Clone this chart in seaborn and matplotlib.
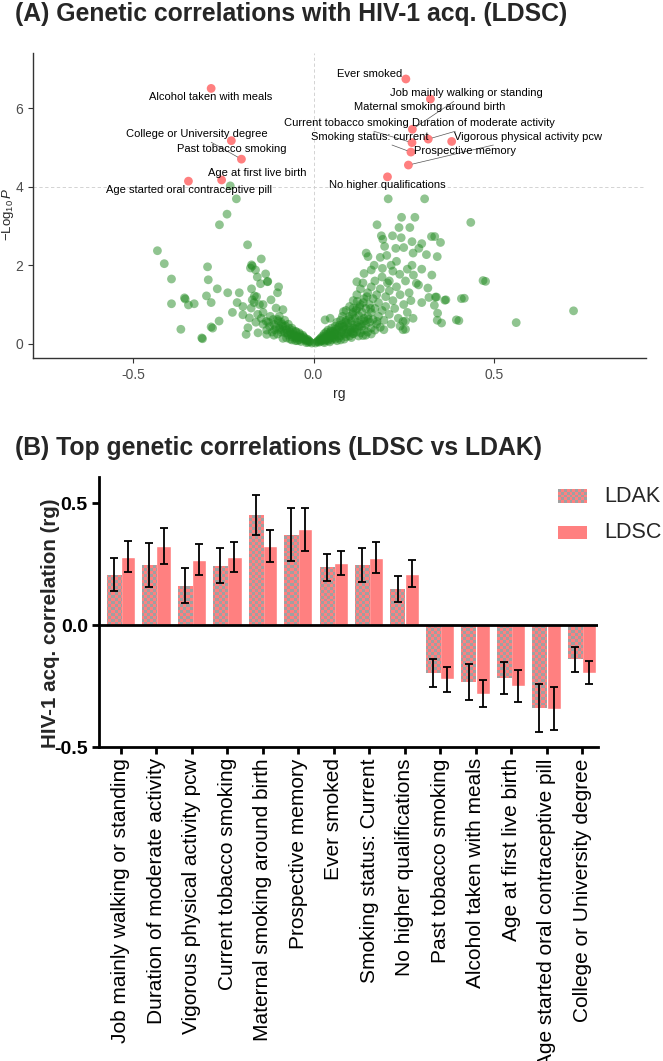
# volcano plot of LDSC genetic correlations + LDSC vs LDAK bar chart
import numpy as np
import pandas as pd
import seaborn as sns
from matplotlib import pyplot as plt
from matplotlib.colors import ListedColormap
from matplotlib.patches import Rectangle

sns.set_style("ticks")
plt.rcParams['font.family'] = ['Liberation Sans', 'DejaVu Sans']
plt.rcParams['mathtext.fontset'] = 'custom'
plt.rcParams['mathtext.rm'] = 'Liberation Sans'
plt.rcParams['mathtext.it'] = 'Liberation Sans:italic'

# ---- panel A: non-significant traits ----
green_rg = [
    -0.231, -0.214, -0.240, -0.261, -0.433, -0.414, -0.394, -0.294, -0.292, -0.183,
    -0.172, -0.145, -0.175, -0.161, -0.156, -0.133, -0.147, -0.128, -0.097, -0.100,
    -0.172, -0.267, -0.238, -0.206, -0.297, -0.358, -0.158, -0.394, -0.356, -0.347,
    -0.331, -0.284, -0.368, -0.308, -0.280, -0.262, -0.284, -0.310, -0.196, -0.173,
    -0.196, -0.178, -0.145, -0.131, -0.104, -0.085, -0.095, -0.182, -0.154, -0.187,
    -0.122, -0.108, -0.170, -0.164, -0.170, -0.127, -0.212, -0.225, -0.140, -0.118,
    -0.010, -0.015, -0.020, -0.025, -0.030, -0.030, -0.035, -0.040, -0.040, -0.045,
    -0.050, -0.050, -0.055, -0.060, -0.060, -0.065, -0.070, -0.070, -0.075, -0.080,
    -0.080, -0.085, -0.090, -0.090, -0.095, -0.100, -0.100, -0.110, -0.115, -0.120,
    -0.125, -0.130, -0.140, -0.140, -0.150, -0.155, -0.160, -0.165, -0.060, -0.045,
    -0.020, -0.035, -0.075, -0.110, -0.130, -0.085, -0.050, -0.065, -0.005, -0.015,
    -0.012, -0.018, -0.022, -0.028, -0.033, -0.038, -0.043, -0.048, -0.053, -0.058,
    -0.063, -0.068, -0.073, -0.078, -0.083, -0.088, -0.093, -0.098, -0.105, -0.112,
    0.005, 0.010, 0.015, 0.015, 0.020, 0.020, 0.025, 0.025, 0.030, 0.030,
    0.030, 0.035, 0.035, 0.040, 0.040, 0.040, 0.045, 0.045, 0.050, 0.050,
    0.050, 0.055, 0.055, 0.060, 0.060, 0.060, 0.065, 0.065, 0.070, 0.070,
    0.070, 0.075, 0.075, 0.080, 0.080, 0.080, 0.085, 0.085, 0.090, 0.090,
    0.090, 0.090, 0.095, 0.095, 0.100, 0.100, 0.100, 0.100, 0.105, 0.105,
    0.110, 0.110, 0.110, 0.110, 0.115, 0.115, 0.120, 0.120, 0.120, 0.120,
    0.125, 0.125, 0.130, 0.130, 0.130, 0.130, 0.135, 0.135, 0.140, 0.140,
    0.140, 0.145, 0.145, 0.150, 0.150, 0.150, 0.155, 0.155, 0.160, 0.160,
    0.160, 0.165, 0.165, 0.170, 0.170, 0.170, 0.175, 0.175, 0.180, 0.180,
    0.185, 0.185, 0.190, 0.190, 0.195, 0.200, 0.200, 0.205, 0.210, 0.210,
    0.215, 0.220, 0.220, 0.225, 0.230, 0.235, 0.240, 0.240, 0.250, 0.255,
    0.260, 0.065, 0.085, 0.105, 0.125, 0.145, 0.160, 0.045, 0.030, 0.075,
    0.012, 0.018, 0.022, 0.028, 0.033, 0.038, 0.042, 0.048, 0.052, 0.058,
    0.062, 0.068, 0.072, 0.078, 0.082, 0.088, 0.092, 0.098, 0.102, 0.108,
    0.112, 0.118, 0.122, 0.128, 0.132, 0.138, 0.142, 0.148, 0.152, 0.158,
    0.207, 0.308, 0.244, 0.281, 0.176, 0.237, 0.267, 0.436, 0.188, 0.192,
    0.219, 0.243, 0.327, 0.336, 0.352, 0.273, 0.292, 0.197, 0.228, 0.146,
    0.151, 0.203, 0.215, 0.313, 0.343, 0.273, 0.277, 0.328, 0.168, 0.191,
    0.470, 0.140, 0.120, 0.276, 0.160, 0.137, 0.239, 0.285, 0.317, 0.341,
    0.364, 0.410, 0.270, 0.300, 0.320, 0.335, 0.396, 0.355, 0.276, 0.248,
    0.248, 0.195, 0.176, 0.121, 0.110, 0.083, 0.046, 0.032, 0.110, 0.137,
    0.721, 0.562, 0.477, 0.403, 0.418, 0.367, 0.338, 0.344, 0.343, 0.255,
    0.255, 0.291, 0.230, 0.260, 0.300, 0.185, 0.250, 0.300, 0.210, 0.265,
]
green_logp = [
    4.02, 3.69, 3.30, 3.03, 2.37, 2.04, 1.65, 1.96, 1.63, 2.52,
    2.01, 2.16, 1.93, 1.88, 1.70, 1.78, 1.53, 1.58, 1.45, 1.30,
    1.40, 1.40, 1.30, 1.30, 1.22, 1.17, 1.20, 1.02, 1.14, 0.99,
    1.02, 1.05, 0.37, 0.13, 0.40, 0.58, 0.43, 0.15, 0.95, 0.91,
    0.74, 0.66, 0.65, 0.57, 0.91, 0.87, 0.70, 0.41, 0.28, 0.24,
    0.44, 0.36, 1.98, 1.22, 1.12, 1.59, 1.05, 0.80, 1.00, 1.12,
    0.05, 0.10, 0.08, 0.15, 0.12, 0.22, 0.18, 0.10, 0.28, 0.20,
    0.14, 0.32, 0.24, 0.18, 0.40, 0.30, 0.22, 0.50, 0.36, 0.28,
    0.60, 0.45, 0.30, 0.55, 0.40, 0.25, 0.62, 0.50, 0.30, 0.70,
    0.55, 0.35, 0.80, 0.50, 1.00, 0.75, 0.55, 1.05, 0.10, 0.08,
    0.03, 0.06, 0.15, 0.22, 0.24, 0.14, 0.08, 0.12, 0.02, 0.04,
    0.07, 0.12, 0.10, 0.18, 0.14, 0.24, 0.16, 0.30, 0.20, 0.34,
    0.24, 0.40, 0.28, 0.46, 0.35, 0.50, 0.36, 0.58, 0.42, 0.62,
    0.02, 0.05, 0.04, 0.10, 0.06, 0.15, 0.10, 0.20, 0.07, 0.15,
    0.26, 0.12, 0.30, 0.08, 0.20, 0.35, 0.15, 0.28, 0.10, 0.22,
    0.40, 0.32, 0.15, 0.12, 0.25, 0.45, 0.35, 0.55, 0.15, 0.28,
    0.42, 0.60, 0.20, 0.35, 0.50, 0.70, 0.25, 0.45, 0.18, 0.38,
    0.60, 0.85, 0.30, 0.52, 0.20, 0.42, 0.70, 0.95, 0.30, 0.58,
    0.26, 0.48, 0.80, 1.10, 0.38, 0.65, 0.30, 0.55, 0.90, 1.25,
    0.42, 0.72, 0.28, 0.60, 1.00, 1.40, 0.45, 0.80, 0.35, 0.65,
    1.15, 0.50, 0.90, 0.30, 0.70, 1.30, 0.55, 1.00, 0.40, 0.80,
    1.45, 0.62, 1.15, 0.35, 0.90, 1.60, 0.50, 1.25, 0.70, 1.05,
    0.42, 1.40, 0.85, 1.70, 0.60, 1.20, 0.95, 1.55, 0.75, 1.35,
    0.50, 1.10, 1.85, 0.90, 1.45, 0.65, 1.25, 0.45, 1.00, 1.60,
    0.80, 0.08, 0.12, 0.16, 0.20, 0.22, 0.25, 0.05, 0.03, 0.10,
    0.07, 0.12, 0.09, 0.18, 0.10, 0.24, 0.12, 0.32, 0.18, 0.28,
    0.38, 0.20, 0.48, 0.30, 0.42, 0.55, 0.26, 0.64, 0.36, 0.75,
    0.40, 0.85, 0.46, 0.95, 0.50, 1.05, 0.58, 1.20, 0.62, 0.90,
    3.69, 3.69, 3.22, 3.22, 3.03, 2.96, 2.96, 3.09, 2.75, 2.66,
    2.75, 2.70, 2.73, 2.73, 2.58, 2.60, 2.43, 2.48, 2.43, 2.31,
    2.22, 2.25, 2.00, 2.27, 2.22, 2.00, 1.75, 1.75, 2.00, 1.92,
    1.61, 1.79, 1.58, 2.31, 1.88, 1.55, 1.77, 1.54, 1.42, 1.19,
    1.11, 1.15, 1.10, 1.05, 1.18, 0.98, 0.61, 0.53, 0.65, 0.57,
    0.36, 0.36, 0.57, 1.08, 0.91, 0.82, 0.65, 0.61, 0.26, 0.21,
    0.84, 0.54, 1.59, 0.59, 1.16, 1.12, 1.19, 0.78, 0.60, 0.37,
    0.58, 1.50, 2.10, 1.90, 1.90, 2.20, 2.45, 2.55, 1.60, 1.30,
]

# ---- panel A: significant (labelled) traits ----
sig_names = ['Alcohol taken with meals', 'College or University degree', 'Past tobacco smoking',
             'Age at first live birth', 'Age started oral contraceptive pill', 'Ever smoked',
             'Job mainly walking or standing', 'Maternal smoking around birth',
             'Current tobacco smoking', 'Duration of moderate activity', 'Smoking status: current',
             'Vigorous physical activity pcw', 'Prospective memory', 'No higher qualifications']
sig_rg = [-0.284, -0.200, -0.228, -0.255, -0.347, 0.256, 0.274, 0.324, 0.273, 0.318, 0.270, 0.263, 0.383, 0.205]
sig_logp = [6.50, 4.70, 5.17, 4.17, 4.14, 6.74, 5.46, 6.23, 5.12, 5.21, 4.88, 4.55, 5.15, 4.25]

# where the repelled labels sit, and whether a segment is drawn
lab_x = [-0.286, -0.325, -0.227, -0.156, -0.346, 0.156, 0.423, 0.321, 0.090, 0.472, 0.156, 0.596, 0.420, 0.205]
lab_y = [6.28, 5.34, 4.96, 4.35, 3.92, 6.87, 6.38, 6.03, 5.62, 5.62, 5.27, 5.27, 4.92, 4.03]
lab_line = [False, True, False, False, False, False, True, False, True, True, True, True, False, False]

# ---- panel B: top genetic correlations ----
traits = ['Job mainly walking or standing', 'Duration of moderate activity',
          'Vigorous physical activity pcw', 'Current tobacco smoking',
          'Maternal smoking around birth', 'Prospective memory', 'Ever smoked',
          'Smoking status: Current', 'No higher qualifications', 'Past tobacco smoking',
          'Alcohol taken with meals', 'Age at first live birth',
          'Age started oral contraceptive pill', 'College or University degree']
ldak_rg = [0.207, 0.247, 0.162, 0.244, 0.452, 0.370, 0.237, 0.247, 0.148,
           -0.195, -0.233, -0.216, -0.340, -0.141]
ldak_se = [0.067, 0.089, 0.071, 0.072, 0.083, 0.108, 0.055, 0.071, 0.054,
           0.058, 0.073, 0.066, 0.100, 0.050]
ldsc_rg = [0.281, 0.323, 0.268, 0.279, 0.325, 0.392, 0.253, 0.277, 0.210,
           -0.223, -0.281, -0.250, -0.342, -0.195]
ldsc_se = [0.062, 0.073, 0.064, 0.063, 0.066, 0.087, 0.049, 0.064, 0.055,
           0.052, 0.056, 0.064, 0.088, 0.046]

SALMON = '#FF8080'
GRAY = '#A0A0A0'

fig = plt.figure(figsize=(6.63, 10.61), dpi=100)
ax1 = fig.add_axes([0.0498, 0.6626, 0.9246, 0.2874])
ax2 = fig.add_axes([0.1493, 0.2959, 0.7526, 0.2545])

# ================= panel A =================
df_a = pd.DataFrame({
    'rg': green_rg + sig_rg,
    'logp': green_logp + sig_logp,
    'grp': ['ns'] * len(green_rg) + ['sig'] * len(sig_rg),
})
ax1.axhline(4, ls=(0, (4, 3)), color='#CCCCCC', lw=0.6, zorder=0)
ax1.axvline(0, ls=(0, (4, 3)), color='#CCCCCC', lw=0.6, zorder=0)
sns.scatterplot(data=df_a, x='rg', y='logp', hue='grp',
                palette={'ns': 'forestgreen', 'sig': 'red'},
                alpha=0.5, s=40, linewidth=0, legend=False, ax=ax1)

for name, x, y, tx, ty, ln in zip(sig_names, sig_rg, sig_logp, lab_x, lab_y, lab_line):
    ap = dict(arrowstyle='-', color='#555555', lw=0.5, shrinkA=0, shrinkB=3) if ln else None
    ax1.annotate(name, xy=(x, y), xytext=(tx, ty), ha='center', va='center',
                 fontsize=8, color='black', arrowprops=ap)

ax1.set_xlim(-0.778, 0.922)
ax1.set_ylim(-0.36, 7.4)
ax1.set_xticks([-0.5, 0.0, 0.5])
ax1.set_xticklabels(['-0.5', '0.0', '0.5'])
ax1.set_yticks([0, 2, 4, 6])
sns.despine(ax=ax1)
for s in ['left', 'bottom']:
    ax1.spines[s].set_color('#333333')
    ax1.spines[s].set_linewidth(1.0)
ax1.tick_params(colors='#333333', labelcolor='#4D4D4D', labelsize=10, length=3.5, width=0.8)
ax1.set_xlabel('rg', fontsize=10, labelpad=4)
ax1.set_ylabel(r'$-\mathrm{Log}_{10}\,\mathit{P}$', fontsize=9.5)
ax1.yaxis.set_label_coords(-0.027, 0.47)

fig.text(15 / 663, 1 - 14 / 1061, '(A) Genetic correlations with HIV-1 acq. (LDSC)',
         fontsize=17.8, fontweight='bold', ha='left', va='center')

# ================= panel B =================
df_b = pd.DataFrame({
    'trait': traits * 2,
    'method': ['LDAK'] * len(traits) + ['LDSC'] * len(traits),
    'rg': ldak_rg + ldsc_rg,
    'se': ldak_se + ldsc_se,
})
sns.barplot(data=df_b, x='trait', y='rg', hue='method', order=traits,
            hue_order=['LDAK', 'LDSC'], palette={'LDAK': SALMON, 'LDSC': SALMON},
            saturation=1, width=0.8, errorbar=None, legend=False, ax=ax2, zorder=2)

# checkerboard fill for the LDAK bars
cell = 3
ny, nx = int(270 / cell) + 1, int(499 / cell) + 1
checker = np.add.outer(np.arange(ny), np.arange(nx)) % 2
cmap_chk = ListedColormap([GRAY, SALMON])
for bar in ax2.containers[0]:
    im = ax2.imshow(checker, cmap=cmap_chk, extent=[0, 1, 0, 1], transform=ax2.transAxes,
                    interpolation='nearest', aspect='auto', zorder=2.5)
    im.set_clip_path(bar)

for cont, se in zip(ax2.containers, [ldak_se, ldsc_se]):
    xs = [b.get_x() + b.get_width() / 2 for b in cont]
    ys = [b.get_height() for b in cont]
    ax2.errorbar(xs, ys, yerr=se, fmt='none', ecolor='black', elinewidth=1.3,
                 capsize=3, capthick=1.3, zorder=4)

ax2.axhline(0, color='black', lw=2, zorder=5)
ax2.set_xlim(-0.62, 13.45)
ax2.set_ylim(-0.5, 0.607)
ax2.set_yticks([-0.5, 0.0, 0.5])
ax2.set_yticklabels(['-0.5', '0.0', '0.5'], fontweight='bold', fontsize=14)
ax2.set_xticks(range(len(traits)))
ax2.set_xticklabels(traits, rotation=90, fontsize=15, ha='center', va='top')
sns.despine(ax=ax2)
for s in ['left', 'bottom']:
    ax2.spines[s].set_color('black')
    ax2.spines[s].set_linewidth(2)
ax2.tick_params(axis='both', colors='black', length=5, width=2, pad=3)
ax2.set_xlabel('')
ax2.set_ylabel('HIV-1 acq. correlation (rg)', fontsize=14.8, fontweight='bold')
ax2.yaxis.set_label_coords(-0.078, 0.46)

fig.text(15 / 663, 1 - 448 / 1061, '(B) Top genetic correlations (LDSC vs LDAK)',
         fontsize=17.8, fontweight='bold', ha='left', va='center')

# legend drawn by hand so the checker swatch matches the bars
ax_leg = fig.add_axes([558 / 663, 1 - 503 / 1061, 29 / 663, 14 / 1061])
ax_leg.imshow(np.add.outer(np.arange(5), np.arange(10)) % 2, cmap=cmap_chk,
              interpolation='nearest', aspect='auto')
ax_leg.axis('off')
fig.add_artist(Rectangle((558 / 663, 1 - 539 / 1061), 29 / 663, 13 / 1061,
                         transform=fig.transFigure, color=SALMON, lw=0))
fig.text(604 / 663, 1 - 496 / 1061, 'LDAK', fontsize=15.5, va='center', ha='left')
fig.text(604 / 663, 1 - 532 / 1061, 'LDSC', fontsize=15.5, va='center', ha='left')

plt.savefig('out.png', dpi=100)
